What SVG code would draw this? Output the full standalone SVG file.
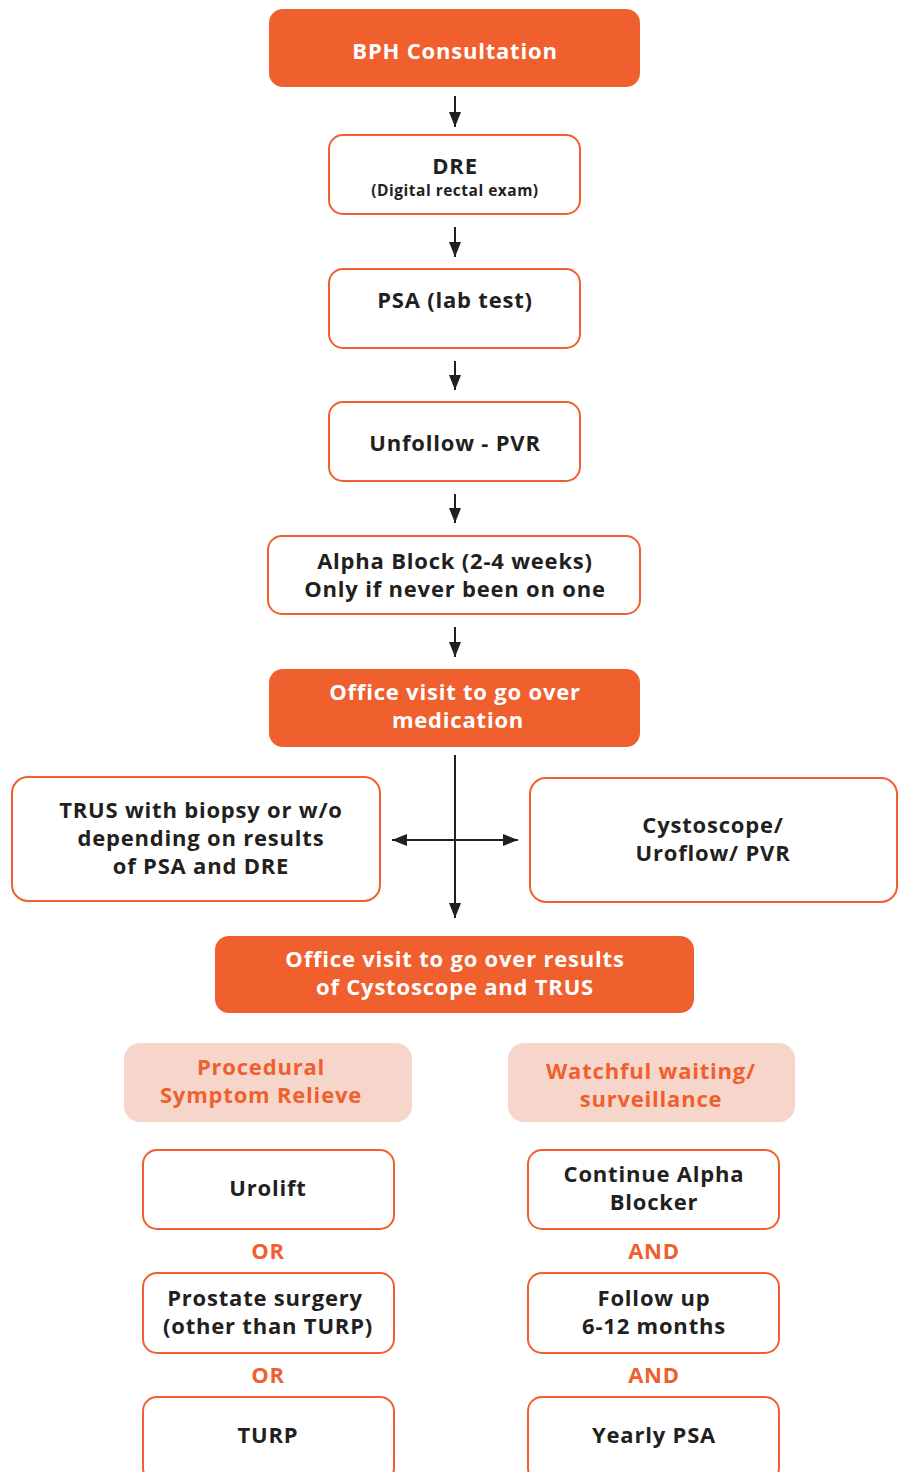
<svg xmlns="http://www.w3.org/2000/svg" width="901" height="1472" viewBox="0 0 901 1472">
<defs>
<marker id="ah" viewBox="0 0 10 10" refX="10" refY="5" markerWidth="15" markerHeight="12" markerUnits="userSpaceOnUse" orient="auto-start-reverse" preserveAspectRatio="none">
<path d="M0,0 L10,5 L0,10 Z" fill="#231F20"/>
</marker>
<style>
.fill{fill:#F0602F;}
.out{fill:#fff;stroke:#F0602F;stroke-width:2;}
.pale{fill:#F6D6CA;}
text{font-family:"Open Sans","Liberation Sans",sans-serif;font-weight:700;text-anchor:middle;dominant-baseline:central;letter-spacing:0.8px;}
.w{fill:#fff;font-size:22px;}
.k{fill:#231F20;font-size:22px;}
.o{fill:#F0602F;font-size:22px;}
.s{fill:#231F20;font-size:15.5px;letter-spacing:0.5px;}
.c{stroke:#231F20;stroke-width:2;fill:none;}
</style>
</defs>
<g id="connectors">
<line class="c" x1="455" y1="96" x2="455" y2="127" marker-end="url(#ah)"/>
<line class="c" x1="455" y1="227" x2="455" y2="257" marker-end="url(#ah)"/>
<line class="c" x1="455" y1="361" x2="455" y2="390" marker-end="url(#ah)"/>
<line class="c" x1="455" y1="494" x2="455" y2="523" marker-end="url(#ah)"/>
<line class="c" x1="455" y1="627" x2="455" y2="657" marker-end="url(#ah)"/>
<line class="c" x1="455" y1="755" x2="455" y2="918" marker-end="url(#ah)"/>
<line class="c" x1="392" y1="840" x2="518" y2="840" marker-start="url(#ah)" marker-end="url(#ah)"/>
</g>
<g id="bph"><rect class="fill" x="269" y="9" width="371" height="78" rx="14"/><text class="w" x="455" y="50">BPH Consultation</text></g>
<g id="dre"><rect class="out" x="329" y="135" width="251" height="79" rx="14"/><text class="k" x="455" y="165">DRE</text><text class="s" x="455" y="190">(Digital rectal exam)</text></g>
<g id="psa"><rect class="out" x="329" y="269" width="251" height="79" rx="14"/><text class="k" x="455" y="299">PSA (lab test)</text></g>
<g id="unfollow"><rect class="out" x="329" y="402" width="251" height="79" rx="14"/><text class="k" x="455" y="442">Unfollow - PVR</text></g>
<g id="alpha"><rect class="out" x="268" y="536" width="372" height="78" rx="14"/><text class="k" x="455" y="560">Alpha Block (2-4 weeks)</text><text class="k" x="455" y="588">Only if never been on one</text></g>
<g id="office1"><rect class="fill" x="269" y="669" width="371" height="78" rx="14"/><text class="w" x="455" y="691">Office visit to go over</text><text class="w" x="458" y="719">medication</text></g>
<g id="trus"><rect class="out" x="12" y="777" width="368" height="124" rx="16"/><text class="k" x="201" y="809">TRUS with biopsy or w/o</text><text class="k" x="201" y="837">depending on results</text><text class="k" x="201" y="865">of PSA and DRE</text></g>
<g id="cysto"><rect class="out" x="530" y="778" width="367" height="124" rx="16"/><text class="k" x="713" y="824">Cystoscope/</text><text class="k" x="713" y="852">Uroflow/ PVR</text></g>
<g id="office2"><rect class="fill" x="215" y="936" width="479" height="77" rx="14"/><text class="w" x="455" y="958">Office visit to go over results</text><text class="w" x="455" y="986">of Cystoscope and TRUS</text></g>
<g id="procedural"><rect class="pale" x="124" y="1043" width="288" height="79" rx="16"/><text class="o" x="261" y="1066">Procedural</text><text class="o" x="261" y="1094">Symptom Relieve</text></g>
<g id="watchful"><rect class="pale" x="508" y="1043" width="287" height="79" rx="16"/><text class="o" x="651" y="1070">Watchful waiting/</text><text class="o" x="651" y="1098">surveillance</text></g>
<g id="urolift"><rect class="out" x="143" y="1150" width="251" height="79" rx="14"/><text class="k" x="268" y="1187">Urolift</text></g>
<text class="o" x="268" y="1250">OR</text>
<g id="prostate"><rect class="out" x="143" y="1273" width="251" height="80" rx="14"/><text class="k" x="265" y="1297">Prostate surgery</text><text class="k" x="268" y="1325">(other than TURP)</text></g>
<text class="o" x="268" y="1374">OR</text>
<g id="turp"><rect class="out" x="143" y="1397" width="251" height="85" rx="14"/><text class="k" x="268" y="1434">TURP</text></g>
<g id="continue"><rect class="out" x="528" y="1150" width="251" height="79" rx="14"/><text class="k" x="654" y="1173">Continue Alpha</text><text class="k" x="654" y="1201">Blocker</text></g>
<text class="o" x="654" y="1250">AND</text>
<g id="followup"><rect class="out" x="528" y="1273" width="251" height="80" rx="14"/><text class="k" x="654" y="1297">Follow up</text><text class="k" x="654" y="1325">6-12 months</text></g>
<text class="o" x="654" y="1374">AND</text>
<g id="yearly"><rect class="out" x="528" y="1397" width="251" height="85" rx="14"/><text class="k" x="654" y="1434">Yearly PSA</text></g>
</svg>
